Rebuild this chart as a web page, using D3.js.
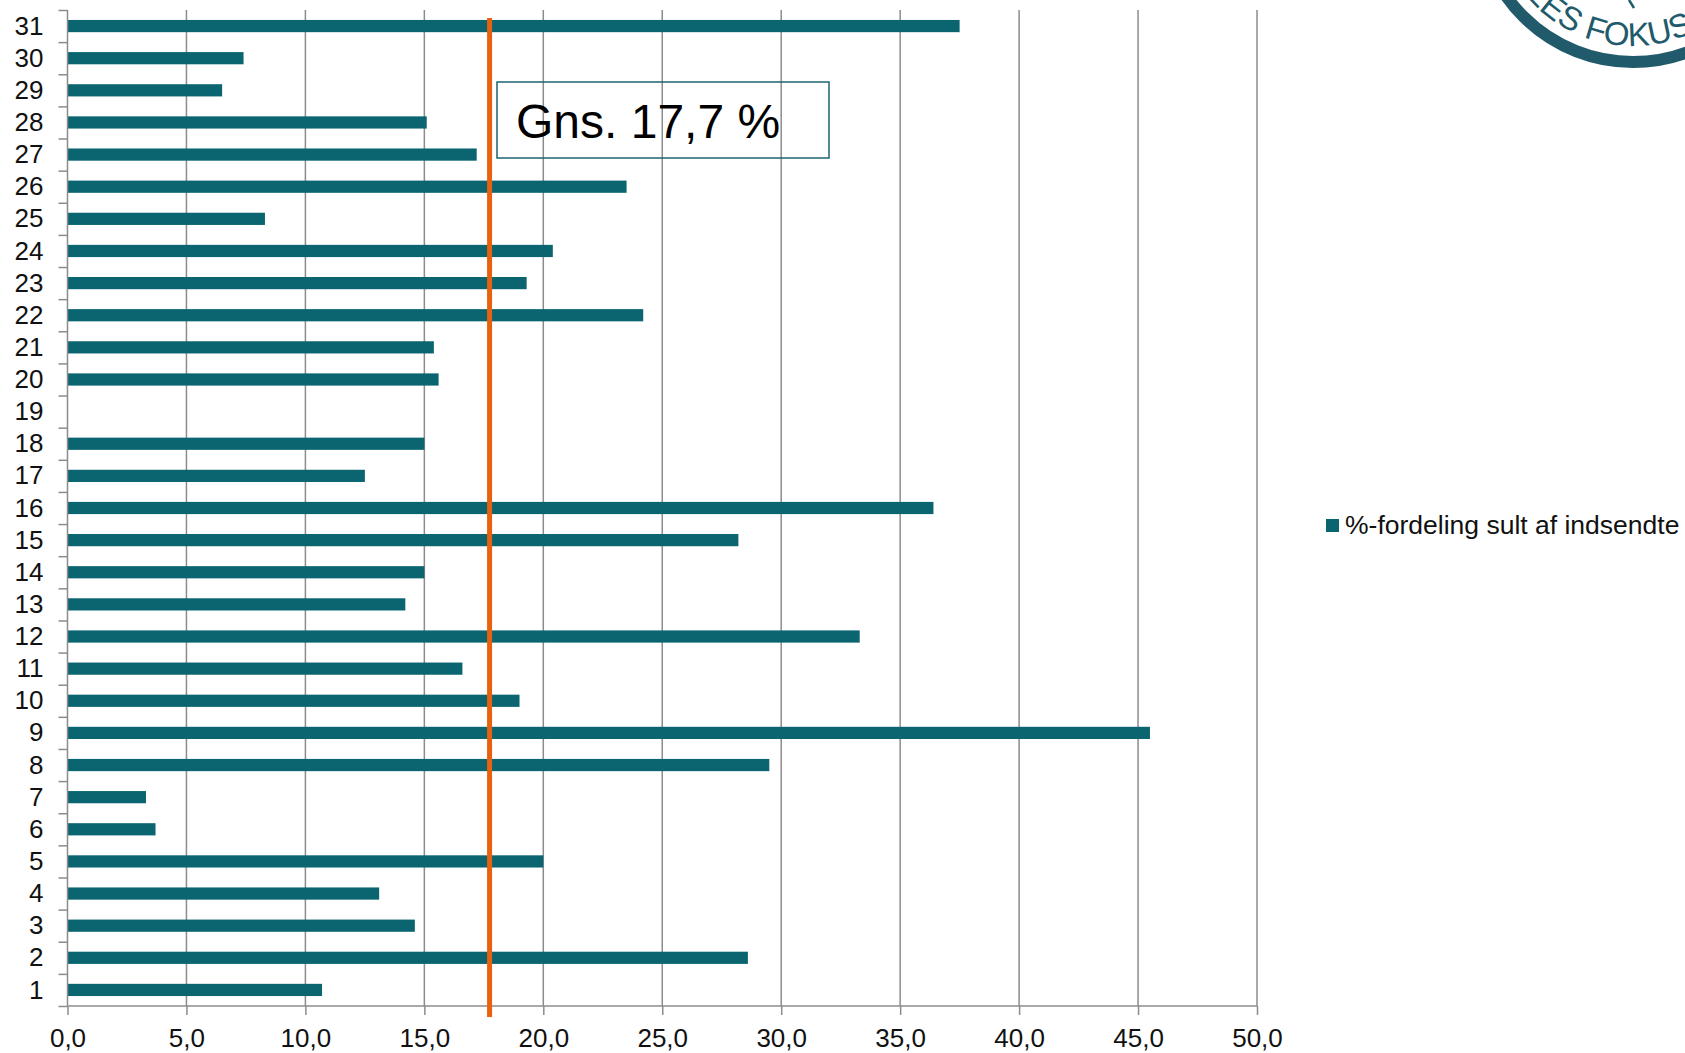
<!DOCTYPE html>
<html>
<head>
<meta charset="utf-8">
<script src="https://cdn.jsdelivr.net/npm/d3@7"></script>
<style>
  body { margin: 0; background: #fff; }
  text { font-family: "Liberation Sans", Arial, sans-serif; }
</style>
</head>
<body>
<div class="container"></div>
<script>
// data
var days = d3.range(1, 32).map(String);
var sultPct = [10.7, 28.6, 14.6, 13.1, 20.0, 3.7, 3.3, 29.5, 45.5, 19.0,
               16.6, 33.3, 14.2, 15.0, 28.2, 36.4, 12.5, 15.0, 0, 15.6,
               15.4, 24.2, 19.3, 20.4, 8.3, 23.5, 17.2, 15.1, 6.5, 7.4, 37.5];
var xTicks = [0, 5, 10, 15, 20, 25, 30, 35, 40, 45, 50];
var average = 17.7;
var legendLabel = '%-fordeling sult af indsendte';
var noteLabel = 'Gns. 17,7 %';

var w = 1685, h = 1053;
var plotLeft = 67.5, plotRight = 1257, plotTop = 10, plotBottom = 1006;

var svg = d3.select('.container')
  .append('svg')
  .attr('width', w)
  .attr('height', h);

var xScale = d3.scaleLinear()
  .domain([0, 50])
  .range([plotLeft, plotRight]);

var yScale = d3.scaleBand()
  .domain(days.slice().reverse())
  .range([plotTop, plotBottom])
  .paddingInner(0.62)
  .paddingOuter(0.31);

var yLin = d3.scaleLinear()
  .domain([0, days.length])
  .range([plotBottom, plotTop]);

/* grid lines */
svg.append('g')
  .selectAll('line')
  .data(xTicks.slice(1))
  .enter()
  .append('line')
  .attr('x1', function(d) { return xScale(d); })
  .attr('x2', function(d) { return xScale(d); })
  .attr('y1', plotTop)
  .attr('y2', plotBottom)
  .attr('stroke', '#8c8c8c')
  .attr('stroke-width', 1.5);

/* bars */
svg.append('g')
  .selectAll('rect')
  .data(sultPct)
  .enter()
  .append('rect')
  .attr('x', xScale(0))
  .attr('y', function(d, i) { return yScale(days[i]); })
  .attr('width', function(d) { return xScale(d) - xScale(0); })
  .attr('height', yScale.bandwidth())
  .attr('fill', '#0a6570');

/* axes */
var xAxis = d3.axisBottom(xScale)
  .tickValues(xTicks)
  .tickSize(9)
  .tickPadding(14)
  .tickFormat(function(d) { return d3.format('.1f')(d).replace('.', ','); });

var gx = svg.append('g')
  .attr('transform', 'translate(0,' + plotBottom + ')')
  .call(xAxis);
gx.selectAll('line, path').attr('stroke', '#8c8c8c').attr('stroke-width', 1.5);
gx.select('.domain').attr('d', 'M' + plotLeft + ',0H' + plotRight);
gx.selectAll('text')
  .style('font-size', '26px')
  .attr('fill', '#111')
  .attr('font-family', '"Liberation Sans", Arial, sans-serif');

var gyTicks = svg.append('g')
  .attr('transform', 'translate(' + plotLeft + ',0)')
  .call(d3.axisLeft(yLin).tickValues(d3.range(0, 32)).tickSize(9).tickFormat(''));
gyTicks.selectAll('line, path').attr('stroke', '#8c8c8c').attr('stroke-width', 1.5);
gyTicks.select('.domain').attr('d', 'M0,' + plotTop + 'V' + plotBottom);

var gy = svg.append('g')
  .attr('transform', 'translate(' + (plotLeft - 24) + ',0)')
  .call(d3.axisLeft(yScale).tickSize(0).tickPadding(0));
gy.select('.domain').remove();
gy.selectAll('text')
  .style('font-size', '26px')
  .attr('fill', '#111')
  .attr('dy', '0.33em')
  .attr('font-family', '"Liberation Sans", Arial, sans-serif');

/* average line */
svg.append('line')
  .attr('x1', xScale(average) + 1)
  .attr('x2', xScale(average) + 1)
  .attr('y1', 18)
  .attr('y2', 1017)
  .attr('stroke', '#e8610f')
  .attr('stroke-width', 5);

/* note box */
svg.append('rect')
  .attr('x', 497).attr('y', 82)
  .attr('width', 332).attr('height', 76)
  .attr('fill', 'none')
  .attr('stroke', '#1c6470')
  .attr('stroke-width', 1.5);
svg.append('text')
  .attr('x', 516).attr('y', 138)
  .text(noteLabel)
  .style('font-size', '48px')
  .attr('fill', '#000');

/* legend */
svg.append('rect')
  .attr('x', 1326).attr('y', 519)
  .attr('width', 13).attr('height', 13)
  .attr('fill', '#0a6570');
svg.append('text')
  .attr('x', 1345).attr('y', 534)
  .text(legendLabel)
  .style('font-size', '26.5px')
  .attr('fill', '#111');

/* logo fragment, top right */
var logo = svg.append('g').attr('transform', 'translate(1633,-93)');
logo.append('circle')
  .attr('r', 155)
  .attr('fill', 'none')
  .attr('stroke', '#215a6b')
  .attr('stroke-width', 12);
var arcPath = d3.path();
var a0 = 200 * Math.PI / 180, a1 = 64 * Math.PI / 180;
arcPath.moveTo(139 * Math.cos(a0), 139 * Math.sin(a0));
arcPath.arc(0, 0, 139, a0, a1, true);
logo.append('path')
  .attr('id', 'logoArc')
  .attr('d', arcPath.toString())
  .attr('fill', 'none');
logo.append('line')
  .attr('x1', -4).attr('y1', 93).attr('x2', 1).attr('y2', 101)
  .attr('stroke', '#215a6b').attr('stroke-width', 2.5);
logo.append('text')
  .style('font-size', '33px')
  .attr('fill', '#215a6b')
  .attr('font-family', '"Open Sans", sans-serif')
  .attr('text-anchor', 'end')
  .append('textPath')
  .attr('href', '#logoArc')
  .attr('startOffset', '100%')
  .text('ALLES FOKUS');
</script>
</body>
</html>
